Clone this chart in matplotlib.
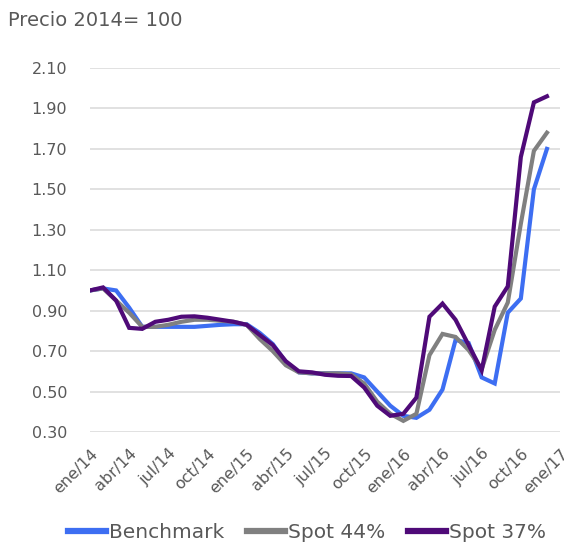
import matplotlib
matplotlib.use("Agg")
import matplotlib.pyplot as plt

months = ["ene", "feb", "mar", "abr", "may", "jun", "jul", "ago", "sep", "oct", "nov", "dic"]
years = ["14", "15", "16", "17"]
categories = [f"{m}/{y}" for y in years for m in months][:37]

benchmark = [1.00, 1.01, 1.00, 0.915, 0.82, 0.82, 0.82, 0.82, 0.82, 0.825, 0.83, 0.833,
             0.833, 0.79, 0.735, 0.645, 0.595, 0.59, 0.59, 0.59, 0.59, 0.57, 0.50, 0.43,
             0.38, 0.37, 0.41, 0.51, 0.755, 0.74, 0.57, 0.54, 0.89, 0.96, 1.50, 1.70]
spot44 = [1.00, 1.01, 0.95, 0.89, 0.82, 0.82, 0.83, 0.845, 0.855, 0.855, 0.85, 0.845,
          0.83, 0.76, 0.70, 0.63, 0.595, 0.59, 0.59, 0.59, 0.585, 0.54, 0.45, 0.39,
          0.355, 0.39, 0.68, 0.785, 0.77, 0.705, 0.61, 0.805, 0.94, 1.33, 1.69, 1.78]
spot37 = [1.00, 1.015, 0.95, 0.815, 0.81, 0.845, 0.855, 0.87, 0.872, 0.865, 0.855, 0.845,
          0.83, 0.78, 0.73, 0.65, 0.60, 0.595, 0.583, 0.578, 0.577, 0.52, 0.43, 0.38,
          0.39, 0.47, 0.87, 0.935, 0.855, 0.73, 0.605, 0.92, 1.02, 1.66, 1.93, 1.96]
series_names = ["Benchmark", "Spot 44%", "Spot 37%"]
yticks = [0.30, 0.50, 0.70, 0.90, 1.10, 1.30, 1.50, 1.70, 1.90, 2.10]

plt.rcParams['font.family'] = ['DejaVu Sans']
text_color = "#595959"

fig = plt.figure(figsize=(5.64, 5.46), dpi=100)
ax = fig.add_axes([90/564, 1-432/546, (560-90)/564, (432-68)/546])

colors = ["#3D6EF2", "#808080", "#4F0A78"]
data = [benchmark, spot44, spot37]
x = list(range(len(benchmark)))
for vals, c, name in zip(data, colors, series_names):
    ax.plot(x, vals, color=c, lw=3.0, solid_joinstyle="miter", label=name)

ax.set_xlim(0, 36)
ax.set_ylim(0.30, 2.10)
ax.set_yticks(yticks)
ax.set_yticklabels([f"{v:.2f}" for v in yticks], fontsize=11.5, color=text_color)
ax.yaxis.grid(True, color="#D9D9D9", lw=1.1)
ax.set_axisbelow(True)
ax.tick_params(axis="y", length=0, pad=16.5)
xt = list(range(0, 37, 3))
ax.set_xticks(xt)
ax.set_xticklabels([categories[i] for i in xt], rotation=45, ha="right",
                   rotation_mode="anchor", fontsize=11.5, color=text_color)
ax.tick_params(axis="x", length=0, pad=10)
for s in ax.spines.values():
    s.set_visible(False)

fig.text(8/564, 1-20/546, "Precio 2014= 100", fontsize=14, color=text_color,
         ha="left", va="center")

leg = fig.legend(loc="center", bbox_to_anchor=(307/564, 1-533/546), ncol=3, frameon=False,
                 fontsize=14.5, handlelength=1.9, handletextpad=0.15, columnspacing=1.1)
for t in leg.get_texts():
    t.set_color(text_color)
for l in leg.get_lines():
    l.set_linewidth(4.5)

fig.savefig("out.png", dpi=100)
